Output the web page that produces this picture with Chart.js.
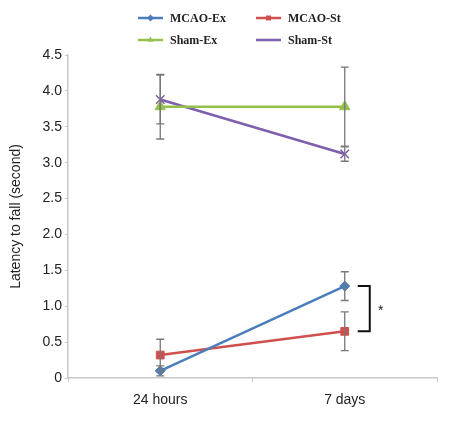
<!DOCTYPE html>
<html>
<head>
<meta charset="utf-8">
<script src="https://cdn.jsdelivr.net/npm/chart.js@4.4.1/dist/chart.umd.min.js"></script>
<style>
  html, body { margin: 0; padding: 0; background: #fff; }
  #wrap { width: 458px; height: 429px; position: relative; }
</style>
</head>
<body>
<div id="wrap"><canvas id="chart" width="458" height="429"></canvas></div>
<script>
const timepoints = ["24 hours", "7 days"];
const mcaoEx = [0.10, 1.28];
const mcaoExErr = [0.07, 0.20];
const mcaoSt = [0.32, 0.65];
const mcaoStErr = [0.22, 0.27];
const shamEx = [3.78, 3.78];
const shamExErr = [0.45, 0.55];
const shamSt = [3.88, 3.12];
const shamStErr = [0.34, 0.10];
const yTicks = [0, 0.5, 1.0, 1.5, 2.0, 2.5, 3.0, 3.5, 4.0, 4.5];

const series = [
  { label: "MCAO-Ex", data: mcaoEx, err: mcaoExErr, color: "#4a7ebb", style: "rectRot", r: 5 },
  { label: "MCAO-St", data: mcaoSt, err: mcaoStErr, color: "#d0504d", style: "rect", r: 5.5 },
  { label: "Sham-Ex", data: shamEx, err: shamExErr, color: "#96c04e", style: "triangle", r: 6 },
  { label: "Sham-St", data: shamSt, err: shamStErr, color: "#7e5fad", style: "crossRot", r: 6 }
];

// error bars, significance bracket and the legend
const extras = {
  id: "extras",
  afterDatasetsDraw(chart) {
    const ctx = chart.ctx;
    const x = chart.scales.x, y = chart.scales.y;
    ctx.save();
    ctx.strokeStyle = "#777";
    ctx.lineWidth = 1.3;
    series.forEach(s => {
      s.data.forEach((v, i) => {
        const px = x.getPixelForValue(i);
        const top = y.getPixelForValue(v + s.err[i]);
        const bot = y.getPixelForValue(Math.max(0, v - s.err[i]));
        ctx.beginPath();
        ctx.moveTo(px, top); ctx.lineTo(px, bot);
        ctx.moveTo(px - 4, top); ctx.lineTo(px + 4, top);
        ctx.moveTo(px - 4, bot); ctx.lineTo(px + 4, bot);
        ctx.stroke();
      });
    });

    // bracket between the MCAO groups at 7 days
    const bx = x.getPixelForValue(1) + 25;
    const y1 = y.getPixelForValue(mcaoEx[1]);
    const y2 = y.getPixelForValue(mcaoSt[1]);
    ctx.strokeStyle = "#111";
    ctx.lineWidth = 2;
    ctx.beginPath();
    ctx.moveTo(bx - 12, y1); ctx.lineTo(bx, y1); ctx.lineTo(bx, y2); ctx.lineTo(bx - 12, y2);
    ctx.stroke();
    ctx.fillStyle = "#222";
    ctx.font = "14px 'Liberation Sans', Arial, sans-serif";
    ctx.textAlign = "center";
    ctx.textBaseline = "middle";
    ctx.fillText("*", bx + 11, (y1 + y2) / 2 + 2);

    // legend, 2 x 2
    const cols = [138, 256];
    const rows = [18, 40];
    ctx.font = "bold 12px 'Liberation Serif', 'Times New Roman', serif";
    ctx.textAlign = "left";
    series.forEach((s, k) => {
      const lx = cols[k % 2], ly = rows[Math.floor(k / 2)];
      ctx.strokeStyle = s.color;
      ctx.lineWidth = 2.5;
      ctx.beginPath();
      ctx.moveTo(lx, ly); ctx.lineTo(lx + 25, ly);
      ctx.stroke();
      ctx.fillStyle = s.color;
      ctx.lineWidth = 1.5;
      Chart.helpers.drawPoint(ctx, { pointStyle: s.style, radius: 3.5, rotation: 0 }, lx + 12.5, ly);
      ctx.fillStyle = "#222";
      ctx.fillText(s.label, lx + 32, ly + 1);
    });
    ctx.restore();
  }
};

const tickFont = { family: "'Liberation Sans', Arial, sans-serif", size: 14 };

new Chart(document.getElementById("chart"), {
  type: "line",
  data: {
    labels: timepoints,
    datasets: series.map(s => ({
      label: s.label,
      data: s.data,
      borderColor: s.color,
      backgroundColor: s.color,
      borderWidth: 2.5,
      pointStyle: s.style,
      pointRadius: s.r,
      pointBorderWidth: s.style === "crossRot" ? 1.5 : 1,
      fill: false,
      tension: 0
    }))
  },
  options: {
    responsive: false,
    animation: false,
    layout: { padding: { top: 55, right: 21, left: 8, bottom: 0 } },
    plugins: {
      legend: { display: false },
      tooltip: { enabled: false }
    },
    scales: {
      x: {
        offset: true,
        afterFit(scale) { scale.height = 51; },
        grid: { display: true, drawOnChartArea: false, offset: true, tickLength: 4, color: "#c8c8c8" },
        border: { color: "#c8c8c8", width: 1.5 },
        ticks: { color: "#222", font: tickFont, padding: 10 }
      },
      y: {
        min: 0, max: 4.5,
        afterFit(scale) { scale.width = 60; },
        afterBuildTicks(scale) { scale.ticks = yTicks.map(v => ({ value: v })); },
        grid: { display: true, drawOnChartArea: false, tickLength: 3, color: "#c8c8c8" },
        border: { color: "#c8c8c8", width: 1.5 },
        ticks: {
          color: "#222",
          font: tickFont,
          padding: 3,
          callback: v => v === 0 ? "0" : v.toFixed(1)
        },
        title: {
          display: true,
          text: "Latency to fall (second)",
          color: "#222",
          font: tickFont,
          padding: 0
        }
      }
    }
  },
  plugins: [extras]
});
</script>
</body>
</html>
